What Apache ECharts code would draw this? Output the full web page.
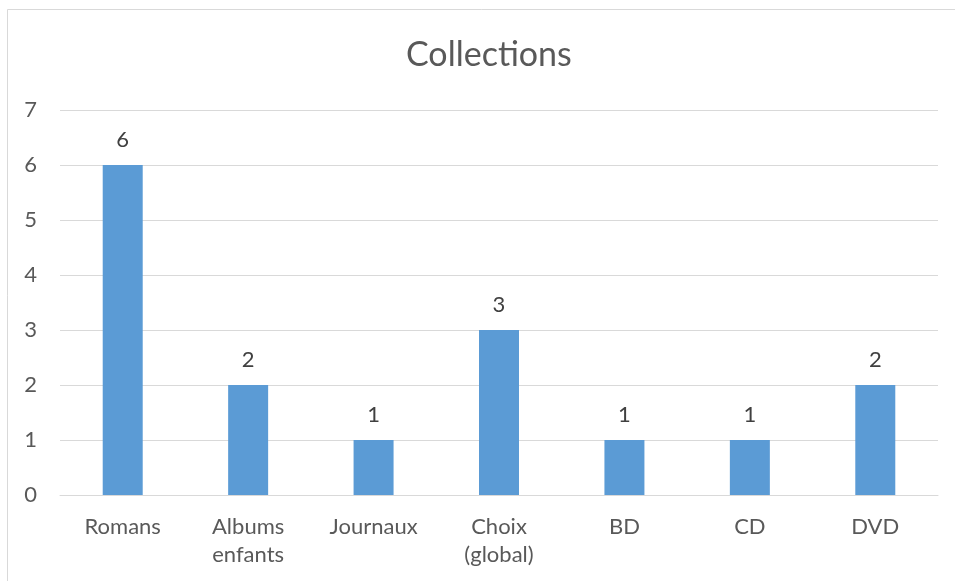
<!DOCTYPE html>
<html><head><meta charset="utf-8">
<script src="https://cdn.jsdelivr.net/npm/echarts@6/dist/echarts.min.js"></script>
<style>html,body{margin:0;padding:0;background:#fff}#c{width:955px;height:581px}</style>
</head><body><div id="c"></div>
<script>
const categories = ["Romans", "Albums\nenfants", "Journaux", "Choix\n(global)", "BD", "CD", "DVD"];
const values = [6, 2, 1, 3, 1, 1, 2];
const titleText = "Collections";
const FONT = "Lato";
const chart = echarts.init(document.getElementById('c'), null, {renderer: 'canvas'});
chart.setOption({
  animation: false,
  backgroundColor: '#fff',
  graphic: [{type: 'rect', shape: {x: 7.5, y: 9.5, width: 1000, height: 700}, style: {fill: 'none', stroke: '#d9d9d9', lineWidth: 1}, silent: true}],
  title: {text: titleText, left: 406, top: 38, padding: 0, textStyle: {fontFamily: FONT, fontSize: 34, fontWeight: 'normal', color: '#595959'}},
  grid: {left: 60, right: 17, top: 110, bottom: 86, containLabel: false},
  xAxis: {type: 'category', data: categories,
    axisLine: {show: true, lineStyle: {color: '#d9d9d9', width: 1}},
    axisTick: {show: false},
    axisLabel: {fontFamily: FONT, fontSize: 22, color: '#595959', margin: 18, lineHeight: 28, interval: 0}},
  yAxis: {type: 'value', min: 0, max: 7, interval: 1,
    axisLine: {show: false}, axisTick: {show: false},
    splitLine: {lineStyle: {color: '#d9d9d9', width: 1}},
    axisLabel: {fontFamily: FONT, fontSize: 22, color: '#595959', margin: 23}},
  series: [{type: 'bar', data: values, barWidth: 40,
    itemStyle: {color: '#5b9bd5'},
    label: {show: true, position: 'top', distance: 14, fontFamily: FONT, fontSize: 22, color: '#404040'}}]
});
</script></body></html>
